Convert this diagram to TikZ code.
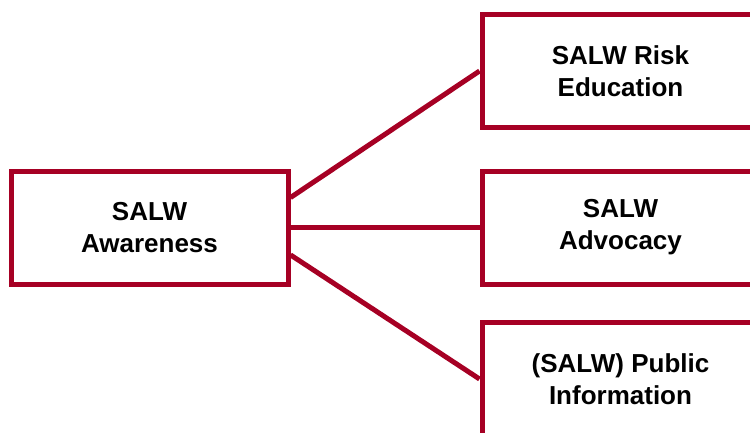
\documentclass[tikz,border=0pt]{standalone}
\usepackage{fontspec}
\setmainfont{Liberation Sans}
\definecolor{salwred}{RGB}{166,0,36}
\begin{document}
\begin{tikzpicture}
[x=1pt,y=1pt,
 topic/.style={draw=salwred,line width=5pt,fill=white,
               minimum width=277pt,minimum height=113pt,
               align=center,inner sep=0pt,
               font=\fontsize{26}{32}\selectfont\bfseries},
 link/.style={draw=salwred,line width=5pt}]
\useasboundingbox (0,0) rectangle (750,432);
\clip (0,0) rectangle (750,432);
\node[topic] (aware) at (149.5,204.5) {SALW\\Awareness};
\node[topic] (risk) at (620.5,361) {SALW Risk\\Education};
\node[topic] (advo) at (620.5,204.5) {SALW\\Advocacy};
\node[topic] (info) at (620.5,53) {(SALW) Public\\Information};
% connectors
\draw[link] (aware.12) -- (risk.west);
\draw[link] (aware.east) -- (advo.west);
\draw[link] (aware.-11) -- (info.west);
\end{tikzpicture}
\end{document}
